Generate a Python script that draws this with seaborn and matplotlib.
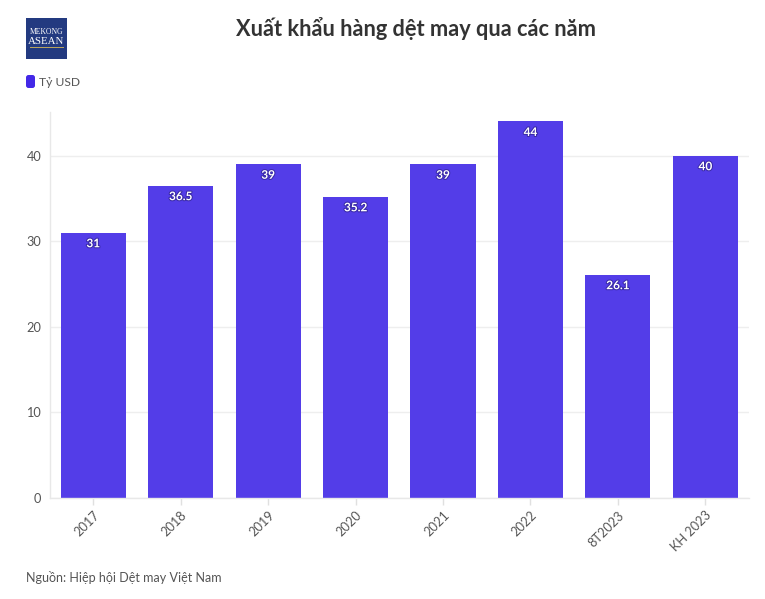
import matplotlib
matplotlib.use("Agg")
import matplotlib.pyplot as plt
from matplotlib.patches import FancyBboxPatch, Rectangle
import matplotlib.patheffects as pe
import pandas as pd
import seaborn as sns

categories = ["2017", "2018", "2019", "2020", "2021", "2022", "8T2023", "KH 2023"]
values = [31, 36.5, 39, 35.2, 39, 44, 26.1, 40]
value_labels = ["31", "36.5", "39", "35.2", "39", "44", "26.1", "40"]
y_ticks = [0, 10, 20, 30, 40]

W, H = 765, 599
sns.set_theme(style="white")
plt.rcParams["font.family"] = ["Lato", "Open Sans", "DejaVu Sans"]
fig = plt.figure(figsize=(W / 100, H / 100), dpi=100, facecolor="white")
ax = fig.add_axes([49.5 / W, 1 - 498 / H, 699.5 / W, 386 / H])

df = pd.DataFrame({"cat": categories, "val": values})
sns.barplot(data=df, x="cat", y="val", color="#533DE8", saturation=1, width=0.745, linewidth=0, ax=ax)
ax.set_xlim(-0.5, 7.5)
ax.set_ylim(0, 45.1)
ax.set_xlabel("")
ax.set_ylabel("")
ax.set_yticks(y_ticks)
ax.yaxis.grid(True, color="#EEEEEE", lw=1)
ax.set_axisbelow(True)
for s in ["top", "right"]:
    ax.spines[s].set_visible(False)
for s in ["left", "bottom"]:
    ax.spines[s].set_color("#E8E8E8")
    ax.spines[s].set_linewidth(1)
ax.tick_params(axis="y", length=0, pad=6, labelsize=9.2, labelcolor="#555555")
ax.tick_params(axis="x", length=5, width=1, color="#E0E0E0", pad=3, labelsize=9.2, labelcolor="#555555", bottom=True)
for t in ax.get_xticklabels():
    t.set_rotation(45)
    t.set_ha("right")
    t.set_rotation_mode("anchor")

for i, (v, lab) in enumerate(zip(values, value_labels)):
    ax.annotate(lab, (i, v), xytext=(0, -4), textcoords="offset points", ha="center", va="top",
                fontsize=8.5, fontweight="bold", color="white",
                path_effects=[pe.withStroke(linewidth=1.5, foreground="#3A2AA8")])

fig.text(416.5 / W, 1 - 29 / H, "Xuất khẩu hàng dệt may qua các năm", ha="center", va="center",
         fontsize=15.7, fontweight="bold", color="#333333")
fig.text(39 / W, 1 - 82.5 / H, "Tỷ USD", ha="left", va="center", fontsize=8.7, color="#555555")
fig.text(26 / W, 1 - 578 / H, "Nguồn: Hiệp hội Dệt may Việt Nam", ha="left", va="center", fontsize=9, color="#555555")

# legend swatch
fig.add_artist(FancyBboxPatch((26, H - 88), 9, 13, boxstyle="round,pad=0,rounding_size=2.5",
                              transform=None, fc="#4328E7", ec="none"))
# logo
fig.add_artist(Rectangle((26 / W, 1 - 59 / H), 41 / W, 41 / H, transform=fig.transFigure, fc="#233A80", ec="none"))
fig.text(46.5 / W, 1 - 31.5 / H, "MEKONG", ha="center", va="center", fontsize=5.5, color="white", family="Liberation Serif")
fig.text(46.5 / W, 1 - 41 / H, "ASEAN", ha="center", va="center", fontsize=7.8, color="white", family="Liberation Serif")
fig.add_artist(Rectangle((29.5 / W, 1 - 48 / H), 34 / W, 1.5 / H, transform=fig.transFigure, fc="#B9A45E", ec="none"))

fig.savefig("out.png", dpi=100)
